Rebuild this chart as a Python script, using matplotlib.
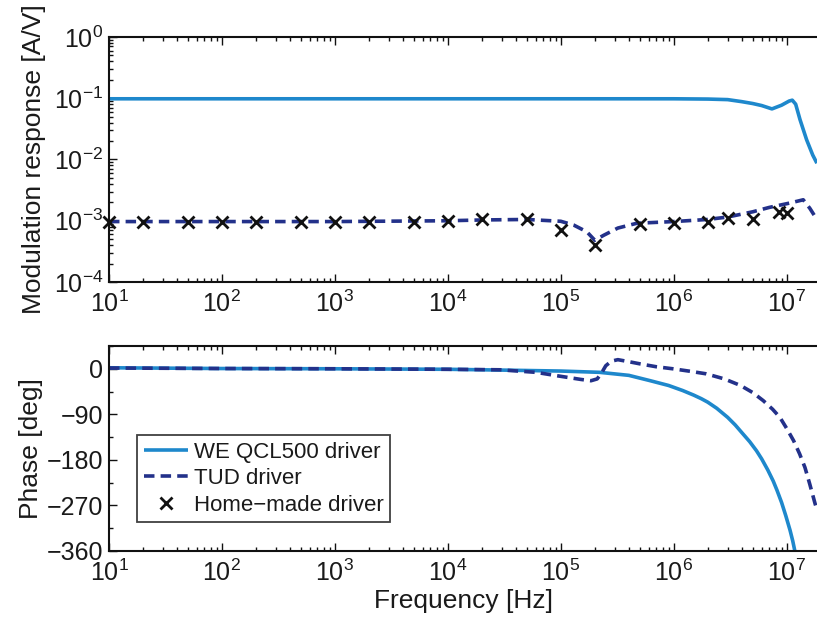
import matplotlib
matplotlib.use("Agg")
import matplotlib.pyplot as plt
from matplotlib.ticker import LogLocator, MultipleLocator, NullFormatter, FixedLocator
import numpy as np

plt.rcParams["font.family"] = ["Liberation Sans", "DejaVu Sans"]
plt.rcParams["mathtext.fontset"] = "custom"
plt.rcParams["mathtext.rm"] = "Liberation Sans"
plt.rcParams["mathtext.it"] = "Liberation Sans:italic"

# WE QCL500 driver, magnitude [A/V]
we_mag_freq = [10, 1e2, 1e3, 1e4, 1e5, 1e6, 2e6, 3e6, 4e6, 5e6, 6e6, 7.4e6,
               9e6, 1.05e7, 1.12e7, 1.2e7, 1.31e7, 1.5e7, 1.7e7, 1.85e7]
we_mag = [0.098, 0.098, 0.098, 0.098, 0.098, 0.098, 0.097, 0.095, 0.088, 0.082,
          0.076, 0.067, 0.077, 0.090, 0.093, 0.080, 0.045, 0.021, 0.0118, 0.0087]

# TUD driver, magnitude
tud_mag_freq = [10, 1e2, 1e3, 1e4, 2e4, 5e4, 1e5, 1.3e5, 1.7e5, 2e5, 2.4e5,
                3.2e5, 4.7e5, 1e6, 2e6, 3e6, 5e6, 7e6, 1.07e7, 1.4e7, 1.6e7, 1.85e7]
tud_mag = [9.7e-4, 9.7e-4, 9.7e-4, 1.0e-3, 1.03e-3, 1.05e-3, 9.8e-4, 8.5e-4,
           6.6e-4, 4.8e-4, 5.8e-4, 7.6e-4, 9.1e-4, 9.7e-4, 1.05e-3, 1.15e-3,
           1.4e-3, 1.65e-3, 1.95e-3, 2.2e-3, 1.6e-3, 1.05e-3]

# Home-made driver, measured points
hm_freq = [10, 20, 50, 100, 200, 500, 1e3, 2e3, 5e3, 1e4, 2e4, 5e4, 1e5, 2e5,
           5e5, 1e6, 2e6, 3e6, 5e6, 8.5e6, 1e7]
hm_mag = [9.7e-4, 9.7e-4, 9.7e-4, 9.7e-4, 9.7e-4, 9.7e-4, 9.7e-4, 9.7e-4,
          9.7e-4, 1.0e-3, 1.05e-3, 1.05e-3, 7.1e-4, 4.0e-4, 8.9e-4, 9.3e-4,
          9.7e-4, 1.1e-3, 1.05e-3, 1.4e-3, 1.35e-3]

# phase [deg]
we_ph_freq = [10, 1e2, 1e3, 1e4, 3e4, 1e5, 2.2e5, 4e5, 6.2e5, 9e5, 1.2e6, 1.5e6,
              1.75e6, 2e6, 2.4e6, 3e6, 3.5e6, 4e6, 4.7e6, 5.4e6, 6e6, 6.8e6,
              7.6e6, 8.2e6, 9e6, 9.8e6, 1.07e7, 1.13e7, 1.18e7]
we_ph = [2, 0.5, 0, -1, -2.6, -4.5, -7, -13, -23.6, -33, -43, -52, -59, -66,
         -78, -96, -111, -126, -144, -162, -178, -200, -222, -240, -264, -290,
         -319, -340, -360]

tud_ph_freq = [10, 1e2, 1e3, 1e4, 2.9e4, 6e4, 9.4e4, 1.5e5, 1.85e5, 2.1e5,
               2.3e5, 2.5e5, 2.8e5, 3.2e5, 4e5, 5e5, 7e5, 9.8e5, 1.4e6, 1.94e6,
               2.8e6, 3.9e6, 5e6, 6.2e6, 7.5e6, 8.7e6, 1e7, 1.15e7, 1.3e7,
               1.45e7, 1.6e7, 1.78e7, 1.85e7]
tud_ph = [1.5, 0.5, 0, -1, -2, -7, -14, -21, -23.6, -20, -8, 6, 15, 18, 14,
          9.8, 4, 0, -5, -10, -20, -33, -47, -63, -80, -96, -118, -142, -168,
          -195, -228, -266, -278]

labels = ["WE QCL500 driver", "TUD driver", "Home\u2212made driver"]

C_WE = "#1e88cc"
C_TUD = "#23318a"
TXT = "#1a1a1a"
XMIN, XMAX = 10, 10 ** 7.268

W, H = 817, 623
fig = plt.figure(figsize=(W / 100, H / 100), dpi=100)
ax1 = fig.add_axes([109 / W, 1 - 282 / H, (W - 109) / W, (282 - 37) / H])
ax2 = fig.add_axes([109 / W, 1 - 551 / H, (W - 109) / W, (551 - 346) / H])


def style(ax):
    ax.set_xscale("log")
    ax.set_xlim(XMIN, XMAX)
    ax.xaxis.set_major_locator(FixedLocator([1e1, 1e2, 1e3, 1e4, 1e5, 1e6, 1e7]))
    ax.xaxis.set_minor_locator(LogLocator(base=10, subs=np.arange(2, 10), numticks=20))
    ax.xaxis.set_minor_formatter(NullFormatter())
    ax.spines["right"].set_visible(False)
    for s in ("left", "top", "bottom"):
        ax.spines[s].set_linewidth(1.5)
        ax.spines[s].set_color("#111111")
    ax.tick_params(which="both", direction="in", top=True, right=False,
                   width=1.0, colors="#111111", labelcolor=TXT, labelsize=18)
    ax.tick_params(which="major", length=6, pad=4)
    ax.tick_params(which="minor", length=3)
    ax.tick_params(axis="x", which="major", pad=6)


dash = (2.9, 1.7)
LW = 2.6

style(ax1)
ax1.set_yscale("log")
ax1.set_ylim(1e-4, 1)
ax1.yaxis.set_major_locator(FixedLocator([1e-4, 1e-3, 1e-2, 1e-1, 1e0]))
ax1.yaxis.set_minor_locator(LogLocator(base=10, subs=np.arange(2, 10), numticks=20))
ax1.yaxis.set_minor_formatter(NullFormatter())
ax1.plot(we_mag_freq, we_mag, color=C_WE, lw=LW, solid_capstyle="butt")
ax1.plot(tud_mag_freq, tud_mag, color=C_TUD, lw=LW, dashes=dash)
ax1.plot(hm_freq, hm_mag, ls="none", marker="x", ms=9, mew=2.0, color="#111111",
         clip_on=False)
ax1.set_ylabel("Modulation response [A/V]", fontsize=19, color=TXT, labelpad=6)

style(ax2)
ax2.set_ylim(-360, 45)
ax2.yaxis.set_major_locator(FixedLocator([-360, -270, -180, -90, 0]))
ax2.yaxis.set_minor_locator(MultipleLocator(45))
l1, = ax2.plot(we_ph_freq, we_ph, color=C_WE, lw=LW, solid_capstyle="butt")
l2, = ax2.plot(tud_ph_freq, tud_ph, color=C_TUD, lw=LW, dashes=dash)
l3, = ax2.plot([], [], ls="none", marker="x", ms=9, mew=2.0, color="#111111")
ax2.set_ylabel("Phase [deg]", fontsize=19, color=TXT, labelpad=3)
ax2.set_xlabel("Frequency [Hz]", fontsize=19, color=TXT, labelpad=2)

leg = ax2.legend([l1, l2, l3], labels, loc="lower left",
                 bbox_to_anchor=(0.04, 0.14), fontsize=16, frameon=True,
                 fancybox=False, edgecolor="#111111", handlelength=2.0,
                 handletextpad=0.25, borderpad=0.3, labelspacing=0.25,
                 borderaxespad=0.0)
leg.get_frame().set_linewidth(1.3)
for t in leg.get_texts():
    t.set_color(TXT)

fig.savefig("out.png", dpi=100)
